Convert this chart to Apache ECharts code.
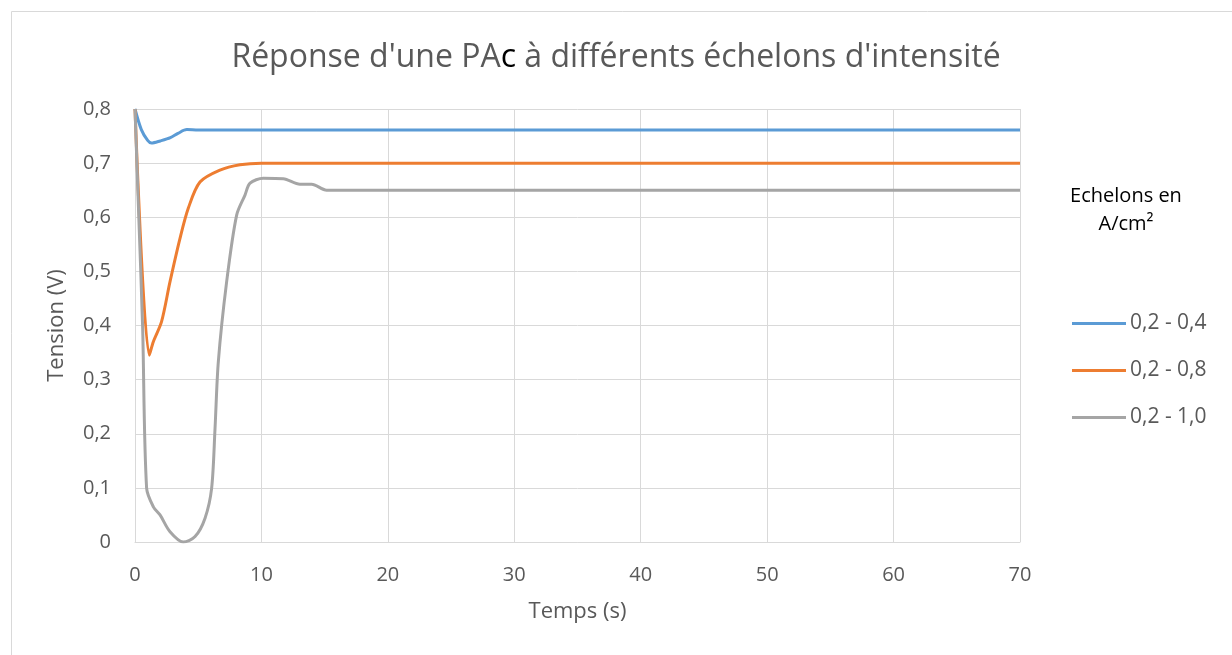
<!DOCTYPE html>
<html>
<head>
<meta charset="utf-8">
<script src="https://cdn.jsdelivr.net/npm/echarts@6/dist/echarts.min.js"></script>
<style>html,body{margin:0;padding:0;background:#fff;}#c{width:1232px;height:655px;}</style>
</head>
<body>
<div id="c"></div>
<script>
var seriesNames = ['0,2 - 0,4', '0,2 - 0,8', '0,2 - 1,0'];
var xTicks = [0, 10, 20, 30, 40, 50, 60, 70];
var yTicks = [0, 0.1, 0.2, 0.3, 0.4, 0.5, 0.6, 0.7, 0.8];

var tBlue = [0, 0.5, 1, 1.3, 2, 2.8, 3.4, 4.1, 5, 70];
var vBlue = [0.8, 0.762, 0.742, 0.737, 0.741, 0.747, 0.755, 0.762, 0.761, 0.761];

var tOrange = [0, 1.13, 1.45, 2.1, 2.77, 3.56, 4.22, 5.14, 6.72, 8.3, 10, 70];
var vOrange = [0.8, 0.345, 0.37, 0.407, 0.481, 0.561, 0.617, 0.665, 0.687, 0.697, 0.70, 0.70];

var tGray = [0, 0.3, 0.6, 0.92, 1.45, 1.98, 2.77, 3.82, 4.75, 5.54, 6.06, 6.33, 6.59, 7.25, 8.04, 8.7, 9.1, 10.15, 11.73, 13.05, 13.97, 15.16, 70];
var vGray = [0.8, 0.6, 0.4, 0.099, 0.065, 0.05, 0.019, 0.0, 0.01, 0.044, 0.099, 0.21, 0.333, 0.481, 0.604, 0.641, 0.663, 0.672, 0.671, 0.661, 0.661, 0.65, 0.65];

var colors = ['#5B9BD5', '#ED7D31', '#A5A5A5'];

function pairs(t, v) { return t.map(function (x, i) { return [x, v[i]]; }); }
var FONT = 'Open Sans';
var chart = echarts.init(document.getElementById('c'), null, { renderer: 'canvas' });
var mk = function (name, t, v, c) {
  return { name: name, type: 'line', data: pairs(t, v), smooth: 0.3,
    showSymbol: false, symbol: 'none', lineStyle: { width: 3, color: c }, itemStyle: { color: c } };
};
chart.setOption({
  animation: false,
  color: colors,
  title: {
    text: "Réponse d'une PA{b|c} à différents échelons d'intensité",
    left: 'center', top: 37,
    textStyle: { fontFamily: FONT, fontSize: 32, fontWeight: 'normal', color: '#595959',
      rich: { b: { fontFamily: FONT, fontSize: 32, color: '#000' } } }
  },
  grid: { left: 135, right: 212, top: 109, bottom: 113, containLabel: false },
  xAxis: {
    type: 'value', min: xTicks[0], max: xTicks[xTicks.length - 1], interval: 10,
    name: 'Temps (s)', nameLocation: 'middle', nameGap: 59,
    nameTextStyle: { fontFamily: FONT, fontSize: 22, color: '#595959' },
    axisLine: { show: true, lineStyle: { color: '#D9D9D9', width: 1 } },
    axisTick: { show: false },
    splitLine: { show: true, lineStyle: { color: '#D9D9D9', width: 1 } },
    axisLabel: { fontFamily: FONT, fontSize: 20, color: '#595959', margin: 23 }
  },
  yAxis: {
    type: 'value', min: yTicks[0], max: yTicks[yTicks.length - 1], interval: 0.1,
    name: 'Tension (V)', nameLocation: 'middle', nameGap: 67,
    nameTextStyle: { fontFamily: FONT, fontSize: 22, color: '#595959' },
    axisLine: { show: true, lineStyle: { color: '#D9D9D9', width: 1 } },
    axisTick: { show: false },
    splitLine: { show: true, lineStyle: { color: '#D9D9D9', width: 1 } },
    axisLabel: { fontFamily: FONT, fontSize: 20, color: '#595959', margin: 24,
      formatter: function (v) { return v === 0 ? '0' : v.toFixed(1).replace('.', ','); } }
  },
  legend: {
    orient: 'vertical', left: 1072, top: 313, padding: 0,
    data: seriesNames, icon: 'rect', itemWidth: 54, itemHeight: 3, itemGap: 26,
    textStyle: { fontFamily: FONT, fontSize: 21, color: '#595959', lineHeight: 20, padding: [0, 0, 0, -1] }
  },
  graphic: [
    { type: 'rect', left: 9, top: 9, shape: { width: 1400, height: 800 }, silent: true,
      style: { fill: 'none', stroke: '#D9D9D9', lineWidth: 1 } },
    { type: 'text', silent: true,
      style: { x: 1126, y: 196, text: 'Echelons en', font: '20px "Open Sans"', fill: '#000', align: 'center', verticalAlign: 'middle' } },
    { type: 'text', silent: true,
      style: { x: 1126, y: 224, text: 'A/cm²', font: '20px "Open Sans"', fill: '#000', align: 'center', verticalAlign: 'middle' } }
  ],
  series: [
    mk(seriesNames[0], tBlue, vBlue, colors[0]),
    mk(seriesNames[1], tOrange, vOrange, colors[1]),
    mk(seriesNames[2], tGray, vGray, colors[2])
  ]
});
</script>
</body>
</html>
